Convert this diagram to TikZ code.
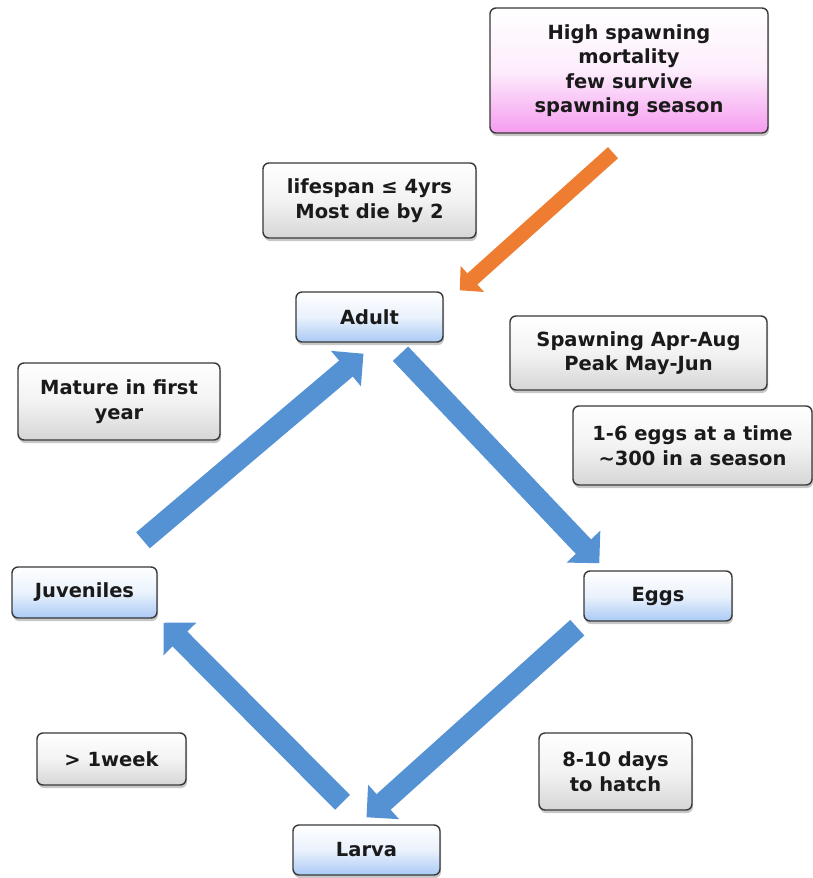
\documentclass[tikz,border=0pt]{standalone}
\usepackage{fontspec}
\setmainfont{DejaVu Sans}
\usetikzlibrary{arrows.meta,shadows,calc}
\definecolor{arrblue}{HTML}{5592D4}
\definecolor{arrorange}{HTML}{EE7D31}
\definecolor{boxedge}{HTML}{383838}
\definecolor{txt}{HTML}{1A1A1A}
\definecolor{graybot}{HTML}{D6D6D6}
\definecolor{bluebot}{HTML}{AACAF5}
\definecolor{pinkbot}{HTML}{F59CEF}
\begin{document}
\begin{tikzpicture}[x=1pt,y=-1pt,
  box/.style={draw=boxedge, line width=1.4pt, rounded corners=6pt, align=center,
    font=\fontsize{19.5}{24.5}\selectfont\bfseries, text=txt, inner sep=0pt,
    drop shadow={shadow xshift=1pt, shadow yshift=-3pt, opacity=0.22, fill=black}},
  graybox/.style={box, top color=white, bottom color=graybot, middle color=white!70!graybot},
  bluebox/.style={box, top color=white, bottom color=bluebot, middle color=white!75!bluebot},
  pinkbox/.style={box, top color=white, bottom color=pinkbot, middle color=white!82!pinkbot},
  bluearr/.style={draw=arrblue, line width=21pt, -{Triangle[width=45pt,length=23pt]}},
  orangearr/.style={draw=arrorange, line width=15pt, -{Triangle[width=34pt,length=17pt]}}
]
\useasboundingbox (0,0) rectangle (812,878);

\node[pinkbox, minimum width=278pt, minimum height=125pt] (high) at (629,70.5)
  {High spawning\\mortality\\few survive\\spawning season};
\node[graybox, minimum width=213pt, minimum height=75pt] (life) at (369.5,200.5)
  {lifespan ≤ 4yrs\\Most die by 2};
\node[bluebox, minimum width=147pt, minimum height=50pt] (adult) at (369.5,317) {Adult};
\node[graybox, minimum width=257pt, minimum height=74pt] (spawn) at (638.5,353)
  {Spawning Apr-Aug\\Peak May-Jun};
\node[graybox, minimum width=202pt, minimum height=77pt] (mature) at (119,401.5)
  {Mature in first\\year};
\node[graybox, minimum width=239pt, minimum height=79pt] (eggsinfo) at (692.5,445.5)
  {1-6 eggs at a time\\\textasciitilde300 in a season};
\node[bluebox, minimum width=145pt, minimum height=51pt] (juv) at (84.5,592.5) {Juveniles};
\node[bluebox, minimum width=148pt, minimum height=50pt] (eggs) at (658,596) {Eggs};
\node[graybox, minimum width=149pt, minimum height=52pt] (week) at (111.5,759) {> 1week};
\node[graybox, minimum width=153pt, minimum height=77pt] (days) at (615.5,771.5)
  {8-10 days\\to hatch};
\node[bluebox, minimum width=147pt, minimum height=50pt] (larva) at (366.5,850) {Larva};

\draw[bluearr] ($(adult.south)+(31,11)$) -- ($(eggs.north west)+(16,-7)$);
\draw[bluearr] ($(eggs.south west)+(-6,6)$) -- ($(larva.north)+(0,-7)$);
\draw[bluearr] ($(larva.north)+(-24,-22)$) -- ($(juv.south east)+(6,4)$);
\draw[bluearr] ($(juv.north)+(58.5,-26)$) -- ($(adult.south)+(-6,11)$);
\draw[orangearr] ($(high.south)+(-16,19)$) -- ($(adult.north east)+(16,-1)$);
\end{tikzpicture}
\end{document}
